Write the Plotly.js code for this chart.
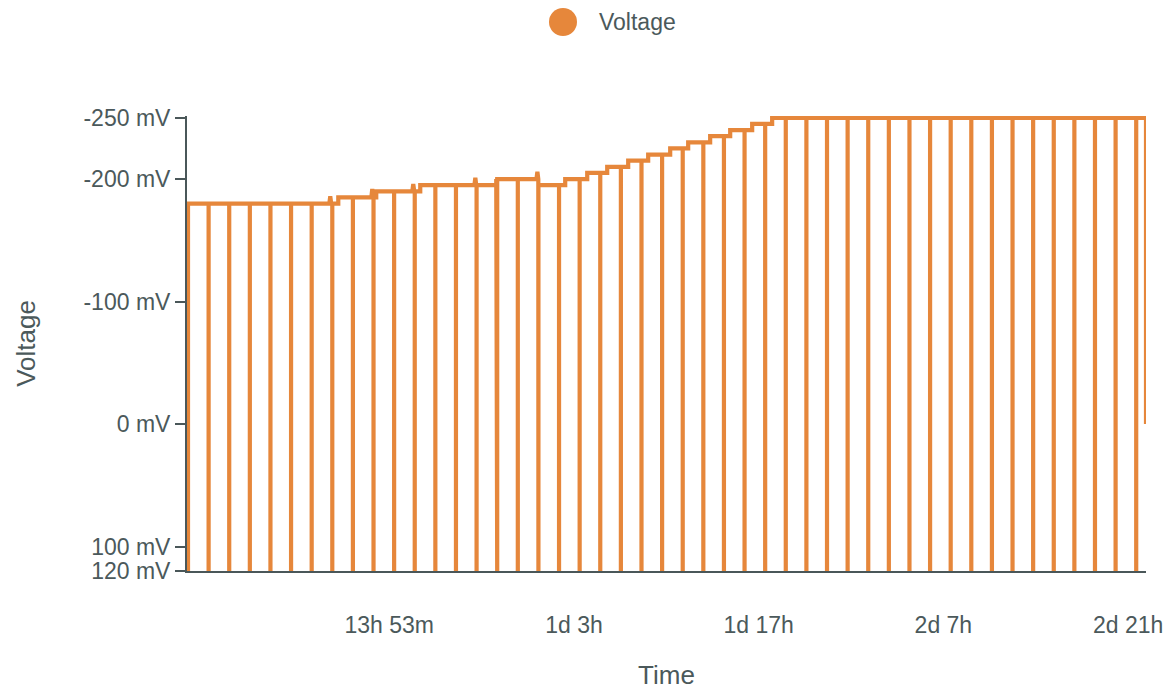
<!DOCTYPE html>
<html>
<head>
<meta charset="utf-8">
<script src="https://cdn.plot.ly/plotly-3.0.1.min.js"></script>
<style>
  html, body { margin: 0; padding: 0; background: #ffffff; }
  #chart { width: 1176px; height: 692px; }
</style>
</head>
<body>
<div id="chart"></div>
<script>
// ---- data (time in seconds, voltage in mV) ----
const seriesName = "Voltage";
const spikeTimes = [-4480, 1100, 6680, 12260, 17840, 23420, 29000, 34580, 40160, 45740,
  51320, 56900, 62480, 68060, 73640, 79220, 84800, 90380, 95960, 101540,
  107120, 112700, 118280, 123860, 129440, 135020, 140600, 146180, 151760, 157340,
  162920, 168500, 174080, 179660, 185240, 190820, 196400, 201980, 207560, 213140,
  218720, 224300, 229880, 235460, 241040, 246620, 252200];
const spikeValue = 120;
const levelTimes = [-4480, 36200, 46480, 58390, 78960, 90380, 97630, 103590, 109000,
  114680, 120090, 126050, 130920, 136870, 142290, 148240, 153650];
const levelValues = [-180, -185, -190, -195, -200, -195, -200, -205, -210,
  -215, -220, -225, -230, -235, -240, -245, -250];
const bumpTimes = [34030, 45400, 56500, 73300, 90100];
const bumpValues = [-186, -192, -196, -201, -206];
const endTime = 254850;
const endValue = 0;

const xTickVals = [50000, 100000, 150000, 200000, 250000];
const xTickText = ["13h 53m", "1d 3h", "1d 17h", "2d 7h", "2d 21h"];
const yTickVals = [-250, -200, -100, 0, 100, 120];
const yTickText = ["-250 mV", "-200 mV", "-100 mV", "0 mV", "100 mV", "120 mV"];

// ---- build line from events ----
const events = [];
for (let i = 1; i < levelTimes.length; i++) events.push({t: levelTimes[i], k: 1, v: levelValues[i]});
spikeTimes.forEach(t => events.push({t: t, k: 0}));
bumpTimes.forEach((t, i) => events.push({t: t, k: 2, v: bumpValues[i]}));
events.sort((a, b) => a.t - b.t || a.k - b.k);

const xs = [], ys = [];
let cur = levelValues[0];
let started = false;
const half = 250;
events.forEach(e => {
  if (e.k === 0) {
    if (!started) { xs.push(e.t); ys.push(spikeValue); started = true; }
    else { xs.push(e.t, e.t); ys.push(cur, spikeValue); }
    let after = cur;
    for (let i = 0; i < levelTimes.length; i++) if (levelTimes[i] <= e.t) after = levelValues[i];
    cur = after;
    xs.push(e.t); ys.push(cur);
  } else if (e.k === 1) {
    if (e.v !== cur) { xs.push(e.t, e.t); ys.push(cur, e.v); cur = e.v; }
  } else {
    xs.push(e.t - half, e.t, e.t + half); ys.push(cur, e.v, cur);
  }
});
xs.push(endTime, endTime); ys.push(cur, endValue);

const orange = "#e6873b";
const txt = "#4b595b";
const font = "Liberation Sans, Arial, Helvetica, sans-serif";

const trace = {
  type: "scatter", mode: "lines", name: seriesName,
  x: xs, y: ys,
  line: {color: orange, width: 4.2},
  showlegend: false, hoverinfo: "x+y"
};

const plotL = 187, plotR = 1146, plotT = 116, plotB = 571;
const pw = plotR - plotL, ph = plotB - plotT;

const layout = {
  width: 1176, height: 692,
  margin: {l: plotL, r: 1176 - plotR, t: plotT, b: 692 - plotB, pad: 0},
  paper_bgcolor: "#ffffff", plot_bgcolor: "#ffffff",
  font: {family: font, color: txt, size: 22},
  showlegend: false,
  xaxis: {
    range: [-4750, endTime],
    showgrid: false, zeroline: false,
    showline: true, linecolor: "#4a5759", linewidth: 2,
    tickmode: "array", tickvals: xTickVals, ticktext: xTickText,
    ticks: "outside", ticklen: 32, tickcolor: "rgba(0,0,0,0)",
    tickfont: {family: font, size: 23, color: txt},
    title: {text: "Time", font: {family: font, size: 26, color: txt}, standoff: 29},
    automargin: false
  },
  yaxis: {
    range: [120, -251.5],
    showgrid: false, zeroline: false,
    showline: true, linecolor: "#4a5759", linewidth: 2,
    tickmode: "array", tickvals: yTickVals, ticktext: yTickText,
    ticks: "outside", ticklen: 10, tickwidth: 2, tickcolor: "#4a5759",
    tickfont: {family: font, size: 23, color: txt},
    title: {text: "Voltage", font: {family: font, size: 26, color: txt}, standoff: 40},
    automargin: false
  },
  shapes: [{
    type: "circle", xref: "paper", yref: "paper",
    xsizemode: "pixel", ysizemode: "pixel",
    xanchor: (563 - plotL) / pw, yanchor: (plotB - 22) / ph,
    x0: -14, x1: 14, y0: -14, y1: 14,
    fillcolor: orange, line: {width: 0}
  }],
  annotations: [{
    xref: "paper", yref: "paper",
    x: (597 - plotL) / pw, y: (plotB - 22) / ph,
    xanchor: "left", yanchor: "middle", showarrow: false,
    text: seriesName, font: {family: font, size: 23, color: txt}
  }]
};

Plotly.newPlot("chart", [trace], layout, {displayModeBar: false, staticPlot: true});
</script>
</body>
</html>
